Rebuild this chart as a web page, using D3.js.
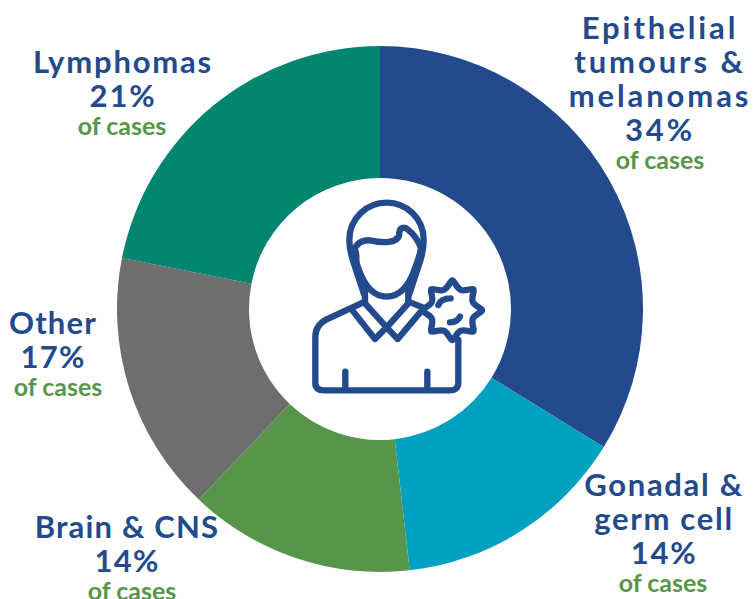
<!DOCTYPE html>
<html>
<head>
<meta charset="utf-8">
<script src="https://cdn.jsdelivr.net/npm/d3@7"></script>
<style>
  html, body { margin: 0; padding: 0; background: #fff; overflow: hidden; }
  text { font-family: Lato, "Open Sans", sans-serif; text-anchor: middle; }
  .name { font-size: 31px; font-weight: 700; fill: #234a8d; }
  .sub { font-size: 25px; font-weight: 700; fill: #57964a; }
  .icon path { fill: none; stroke: #234a8d; stroke-width: 19; stroke-linecap: round; stroke-linejoin: round; }
</style>
</head>
<body>
<svg id="chart" width="753" height="599"></svg>
<script>
const categories = ['Epithelial tumours & melanomas', 'Gonadal & germ cell', 'Brain & CNS', 'Other', 'Lymphomas'];
// slice sizes as measured from the drawn arcs, the printed percentages don't quite agree
const sliceShares = [33.8, 14.4, 13.9, 16, 21.9];
const printedPercents = [34, 14, 14, 17, 21];
const nameLines = [
    ['Epithelial', 'tumours &', 'melanomas'],
    ['Gonadal &', 'germ cell'],
    ['Brain & CNS'],
    ['Other'],
    ['Lymphomas'],
];
const colors = ['#234a8d', '#00a0c0', '#57964a', '#6e6e6e', '#00856f'];

const cx = 380;
const cy = 309;
const outerRadius = 263;
const innerRadius = 131;
const lineHeight = 34;

// first baseline and centre of each label block
const labelPos = [
    {x: 660, y: 39, subX: 660, spacing: 2.9},
    {x: 664, y: 496, subX: 663, spacing: 1.7},
    {x: 127, y: 538, subX: 132, spacing: 1.2},
    {x: 53, y: 334, subX: 58, spacing: 1.2},
    {x: 123, y: 73, subX: 122, spacing: 1.8},
];

const svg = d3.select('#chart');

const pie = d3.pie().sort(null).value(d => d);
const arc = d3.arc().innerRadius(innerRadius).outerRadius(outerRadius);

svg.append('g')
    .attr('transform', `translate(${cx}, ${cy})`)
    .selectAll('path').data(pie(sliceShares))
    .enter().append('path')
        .attr('d', arc)
        .attr('fill', (d, i) => colors[i]);

const label = svg.selectAll('.label').data(categories)
    .enter().append('g')
        .attr('class', 'label');

label.each(function(d, i) {
    const g = d3.select(this);
    const lines = nameLines[i].concat(`${printedPercents[i]}%`);
    const pos = labelPos[i];
    lines.forEach((line, j) => {
        g.append('text')
            .attr('class', 'name')
            .attr('x', pos.x)
            .attr('y', pos.y + j * lineHeight)
            .style('letter-spacing', `${pos.spacing}px`)
            .text(line);
    });
    g.append('text')
        .attr('class', 'sub')
        .attr('x', pos.subX)
        .attr('y', pos.y + (lines.length - 1) * lineHeight + 27.5)
        .text('of cases');
});

// person icon, drawn in a 630 box to line up with the artwork
const icon = svg.append('g')
    .attr('class', 'icon')
    .attr('transform', 'translate(290, 190) scale(0.3333)');

const iconPaths = [
    'M225 335 L110 388 C88 400 76 418 76 440 L76 580 C76 595 86 601 100 601 L480 601 C496 601 505 593 505 578 L505 450',
    'M355 335 L398 352',
    'M225 305 V340 L290 412 L355 340 V305',
    'M190 365 L255 447 L290 412 L323 447 L390 368',
    'M166 545 V598',
    'M412 545 V598',
    'M222 312 L190 215 C180 185 178 165 178 150 C178 85 230 38 290 38 C350 38 401 85 401 150 C401 168 398 190 390 215 L358 312',
    'M195 178 C205 205 192 205 205 235 C222 285 250 320 290 320 C330 320 358 285 375 235 C388 200 395 175 392 170',
    'M192 178 C205 155 225 148 245 152 C280 160 330 160 328 127 C330 110 345 110 355 120 C375 135 385 155 392 170',
];

icon.selectAll('.part').data(iconPaths)
    .enter().append('path')
        .attr('class', 'part')
        .attr('d', d => d);

const virusRadii = d3.range(16).map(i => (i % 2 ? 48 : 112));
const virus = d3.lineRadial()
    .angle((d, i) => i * Math.PI / 8)
    .radius(d => d)
    .curve(d3.curveBasisClosed);

icon.append('path')
    .attr('transform', 'translate(487, 361)')
    .attr('d', virus(virusRadii))
    .style('fill', '#fff');

icon.append('path').attr('d', 'M445 345 C450 332 465 325 482 325');
icon.append('path').attr('d', 'M480 397 C495 397 505 390 510 380');
</script>
</body>
</html>
